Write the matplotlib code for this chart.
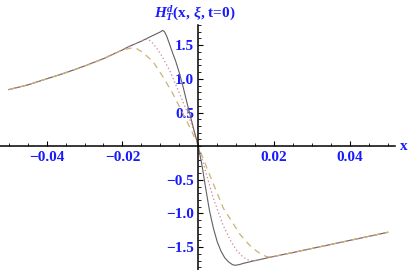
import numpy as np
import matplotlib
matplotlib.use('Agg')
import matplotlib.pyplot as plt
from matplotlib import ticker

# curves: solid, dotted, dashed
x_solid = [-0.05, -0.045, -0.04, -0.035, -0.03, -0.025, -0.02, -0.0183, -0.015, -0.0125,
           -0.011, -0.0099, -0.0094, -0.0089, -0.0083, -0.0076, -0.0068, -0.006, -0.005,
           -0.004, -0.003, -0.002, -0.001, 0.0, 0.001, 0.002, 0.003, 0.004, 0.005, 0.006,
           0.007, 0.008, 0.009, 0.0097, 0.0108, 0.012, 0.015, 0.019, 0.025, 0.03, 0.04, 0.05]
y_solid = [0.84, 0.91, 1.0, 1.09, 1.19, 1.30, 1.43, 1.48, 1.56, 1.63,
           1.67, 1.70, 1.72, 1.70, 1.63, 1.52, 1.39, 1.27, 1.09,
           0.88, 0.65, 0.43, 0.21, 0.0, -0.29, -0.64, -0.97, -1.22, -1.42, -1.56,
           -1.66, -1.72, -1.76, -1.77, -1.76, -1.74, -1.70, -1.65, -1.58, -1.52, -1.40, -1.28]

x_dot = [-0.05, -0.045, -0.04, -0.035, -0.03, -0.025, -0.02, -0.0183, -0.015, -0.0137,
         -0.013, -0.0122, -0.011, -0.0095, -0.0075, -0.0053, -0.003, -0.0012, 0.0, 0.0014,
         0.004, 0.0066, 0.0085, 0.01, 0.0115, 0.0127, 0.0138, 0.015, 0.019, 0.025, 0.03,
         0.04, 0.05]
y_dot = [0.84, 0.91, 1.0, 1.09, 1.19, 1.30, 1.43, 1.48, 1.56, 1.59,
         1.58, 1.54, 1.46, 1.33, 1.12, 0.83, 0.52, 0.23, 0.0, -0.27,
         -0.78, -1.18, -1.40, -1.54, -1.63, -1.68, -1.70, -1.70, -1.65, -1.58, -1.52,
         -1.40, -1.28]

x_dash = [-0.05, -0.045, -0.04, -0.035, -0.03, -0.025, -0.02, -0.0175, -0.0163, -0.0148,
          -0.012, -0.0093, -0.0067, -0.004, -0.0017, 0.0, 0.0026, 0.0066, 0.011, 0.0135,
          0.0154, 0.0168, 0.018, 0.019, 0.025, 0.03, 0.04, 0.05]
y_dash = [0.84, 0.91, 1.0, 1.09, 1.19, 1.30, 1.43, 1.46, 1.45, 1.40,
          1.26, 1.03, 0.78, 0.48, 0.22, 0.0, -0.37, -0.92, -1.31, -1.47,
          -1.56, -1.61, -1.64, -1.65, -1.58, -1.52, -1.40, -1.28]

xticks = [-0.04, -0.02, 0.02, 0.04]
yticks = [-1.5, -1.0, -0.5, 0.5, 1.0, 1.5]

blue = '#1a1aff'
lab_font = dict(family='Liberation Serif', weight='bold', size=11)

plt.rcParams['mathtext.fontset'] = 'custom'
plt.rcParams['mathtext.rm'] = 'Liberation Serif:bold'
plt.rcParams['mathtext.it'] = 'Liberation Serif:italic:bold'
plt.rcParams['mathtext.bf'] = 'Liberation Serif:bold'

fig = plt.figure(figsize=(4.09, 2.70), dpi=100)
ax = fig.add_axes([0, 0, 395/409, 245/270])

ax.plot(x_solid, y_solid, color='#606060', lw=0.8, linestyle='solid')
ax.plot(x_dot, y_dot, color='#d47f95', lw=0.9, linestyle=(0, (1, 2)))
ax.plot(x_dash, y_dash, color='#c8b473', lw=0.9, linestyle=(0, (5, 4)))

ax.set_xlim(-0.0523, 0.0519)
ax.set_ylim(-1.84, 1.80)

for s in ['top', 'right']:
  ax.spines[s].set_visible(False)
ax.spines['left'].set_position(('data', 0))
ax.spines['bottom'].set_position(('data', 0))
ax.spines['left'].set_linewidth(1.1)
ax.spines['bottom'].set_linewidth(1.1)

ax.set_xticks(xticks)
ax.set_yticks(yticks)
ax.xaxis.set_minor_locator(ticker.MultipleLocator(0.005))
ax.yaxis.set_minor_locator(ticker.MultipleLocator(0.1))

def fmt(decimals):
  return ticker.FuncFormatter(lambda v, p: ('%.*f' % (decimals, v)).replace('-', '\u2212'))
ax.xaxis.set_major_formatter(fmt(2))
ax.yaxis.set_major_formatter(fmt(1))

ax.tick_params(which='major', direction='in', length=3.5, width=0.8)
ax.tick_params(which='minor', direction='in', length=2, width=0.6)
ax.tick_params(axis='x', which='major', pad=3.5)
ax.tick_params(axis='y', which='major', pad=3)
for lab in ax.get_xticklabels() + ax.get_yticklabels():
  lab.set_fontfamily('Liberation Serif')
  lab.set_fontweight('bold')
  lab.set_fontsize(11)
  lab.set_color(blue)

fig.text(154/409, 1 - 13/270, r'$H_T^d$(x, $\xi$, t=0)', color=blue,
         va='center', ha='left', **lab_font)
fig.text(400/409, 1 - 146/270, 'x', color=blue, va='center', ha='left', **lab_font)

fig.savefig('out.png', dpi=100)
